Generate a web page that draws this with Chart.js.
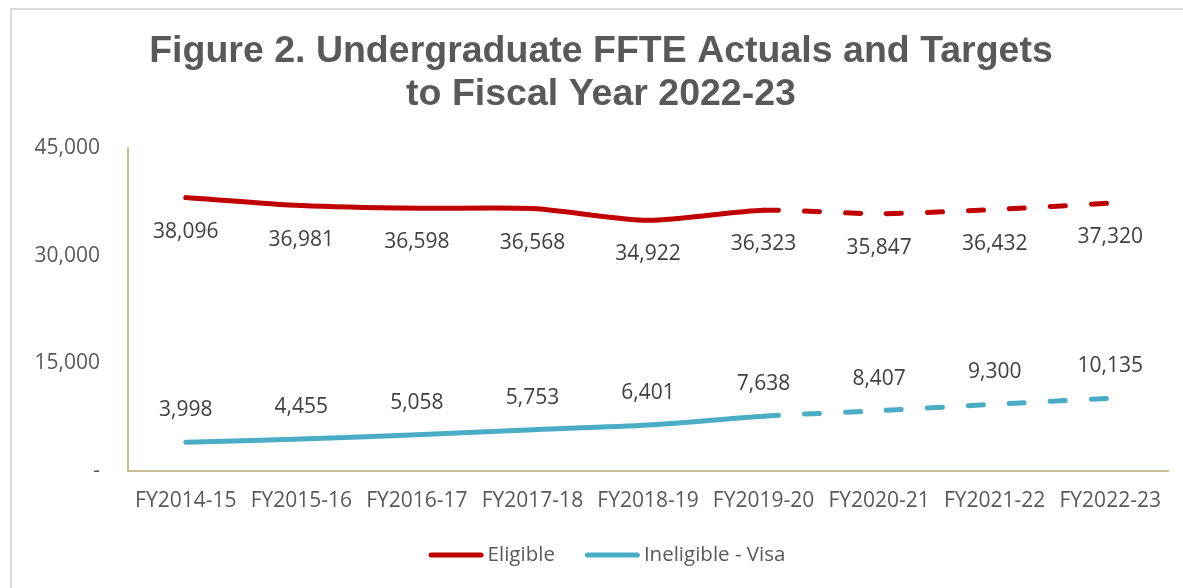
<!DOCTYPE html>
<html>
<head>
<meta charset="utf-8">
<script src="https://cdn.jsdelivr.net/npm/chart.js@4"></script>
<style>
  html, body { margin: 0; padding: 0; background: #fff; }
  #wrap { width: 1183px; height: 588px; }
</style>
</head>
<body>
<div id="wrap"><canvas id="fte"></canvas></div>
<script>
// data
var years = ['FY2014-15', 'FY2015-16', 'FY2016-17', 'FY2017-18', 'FY2018-19',
             'FY2019-20', 'FY2020-21', 'FY2021-22', 'FY2022-23'];
var eligible = [38096, 36981, 36598, 36568, 34922, 36323, 35847, 36432, 37320];
var ineligibleVisa = [3998, 4455, 5058, 5753, 6401, 7638, 8407, 9300, 10135];
var yTicks = [0, 15000, 30000, 45000];
var lastActual = 5; // targets (dashed) after FY2019-20

var fmt = function (v) { return v.toLocaleString('en-US'); };

// dashed once we are past the actuals
var dashAfter = function (ctx) {
    return ctx.p0DataIndex >= lastActual ? [15, 26] : undefined;
};

// light grey frame round the chart
var framePlugin = {
    id: 'frame',
    beforeDraw: function (chart) {
        var c = chart.ctx;
        c.save();
        c.strokeStyle = '#d9d9d9';
        c.lineWidth = 2;
        c.beginPath();
        c.moveTo(11, 600);
        c.lineTo(11, 9);
        c.lineTo(1183, 9);
        c.stroke();
        c.restore();
    }
};

// value labels: below the red line, above the blue one
var labelPlugin = {
    id: 'valueLabels',
    afterDatasetsDraw: function (chart) {
        var c = chart.ctx;
        c.save();
        c.font = '21px "Open Sans"';
        c.fillStyle = '#404040';
        c.textAlign = 'center';
        c.textBaseline = 'middle';
        chart.data.datasets.forEach(function (ds, di) {
            var meta = chart.getDatasetMeta(di);
            meta.data.forEach(function (pt, i) {
                var dy = di === 0 ? 34 : -32;
                c.fillText(fmt(ds.data[i]), pt.x, pt.y + dy);
            });
        });
        c.restore();
    }
};

// legend at the bottom, drawn by hand so the swatch sits close to its text
var legendPlugin = {
    id: 'bottomLegend',
    afterDraw: function (chart) {
        var c = chart.ctx;
        var sw = 55, gap = 4, between = 30, y = 555;
        c.save();
        c.font = '20.5px "Open Sans"';
        var items = chart.data.datasets.map(function (ds) {
            return { text: ds.label, color: ds.borderColor, w: c.measureText(ds.label).width };
        });
        var total = items.reduce(function (s, it) { return s + sw + gap + it.w; }, 0) + between * (items.length - 1);
        var x = 607 - total / 2;
        c.textBaseline = 'middle';
        c.textAlign = 'left';
        items.forEach(function (it) {
            c.strokeStyle = it.color;
            c.lineWidth = 5;
            c.lineCap = 'round';
            c.beginPath();
            c.moveTo(x + 2.5, y);
            c.lineTo(x + sw - 2.5, y);
            c.stroke();
            c.fillStyle = '#595959';
            c.fillText(it.text, x + sw + gap, y);
            x += sw + gap + it.w + between;
        });
        c.restore();
    }
};

new Chart(document.getElementById('fte'), {
    type: 'line',
    data: {
        labels: years,
        datasets: [{
            label: 'Eligible',
            data: eligible,
            borderColor: '#c00000',
            backgroundColor: '#c00000',
            borderWidth: 5,
            borderCapStyle: 'round',
            pointRadius: 0,
            tension: 0.25,
            segment: { borderDash: dashAfter }
        }, {
            label: 'Ineligible - Visa',
            data: ineligibleVisa,
            borderColor: '#4bacc6',
            backgroundColor: '#4bacc6',
            borderWidth: 5,
            borderCapStyle: 'round',
            pointRadius: 0,
            tension: 0.25,
            segment: { borderDash: dashAfter }
        }]
    },
    options: {
        responsive: true,
        maintainAspectRatio: false,
        animation: false,
        layout: { padding: { left: 34, right: 15, top: 30, bottom: 0 } },
        plugins: {
            title: {
                display: true,
                text: ['Figure 2. Undergraduate FFTE Actuals and Targets', 'to Fiscal Year 2022-23'],
                color: '#595959',
                font: { family: '"Liberation Sans", Arial, sans-serif', size: 37.5, weight: 'bold', lineHeight: 1.147 },
                padding: { top: 0, bottom: 32 }
            },
            legend: { display: false },
            tooltip: { enabled: false }
        },
        scales: {
            x: {
                offset: true,
                grid: { display: false, drawTicks: false },
                border: { color: '#c9bd93', width: 2 },
                ticks: { color: '#595959', font: { family: '"Open Sans"', size: 21 }, padding: 17, maxRotation: 0 },
                afterFit: function (axis) { axis.height = 117; }
            },
            y: {
                min: 0,
                max: 45000,
                afterBuildTicks: function (axis) {
                    axis.ticks = yTicks.map(function (v) { return { value: v }; });
                },
                grid: { display: false, drawTicks: false },
                border: { color: '#c9bd93', width: 2 },
                ticks: {
                    color: '#595959',
                    font: { family: '"Open Sans"', size: 21 },
                    padding: 28,
                    callback: function (v) { return v === 0 ? '-' : fmt(v); }
                },
                afterFit: function (axis) { axis.width = 94; }
            }
        }
    },
    plugins: [framePlugin, labelPlugin, legendPlugin]
});
</script>
</body>
</html>
